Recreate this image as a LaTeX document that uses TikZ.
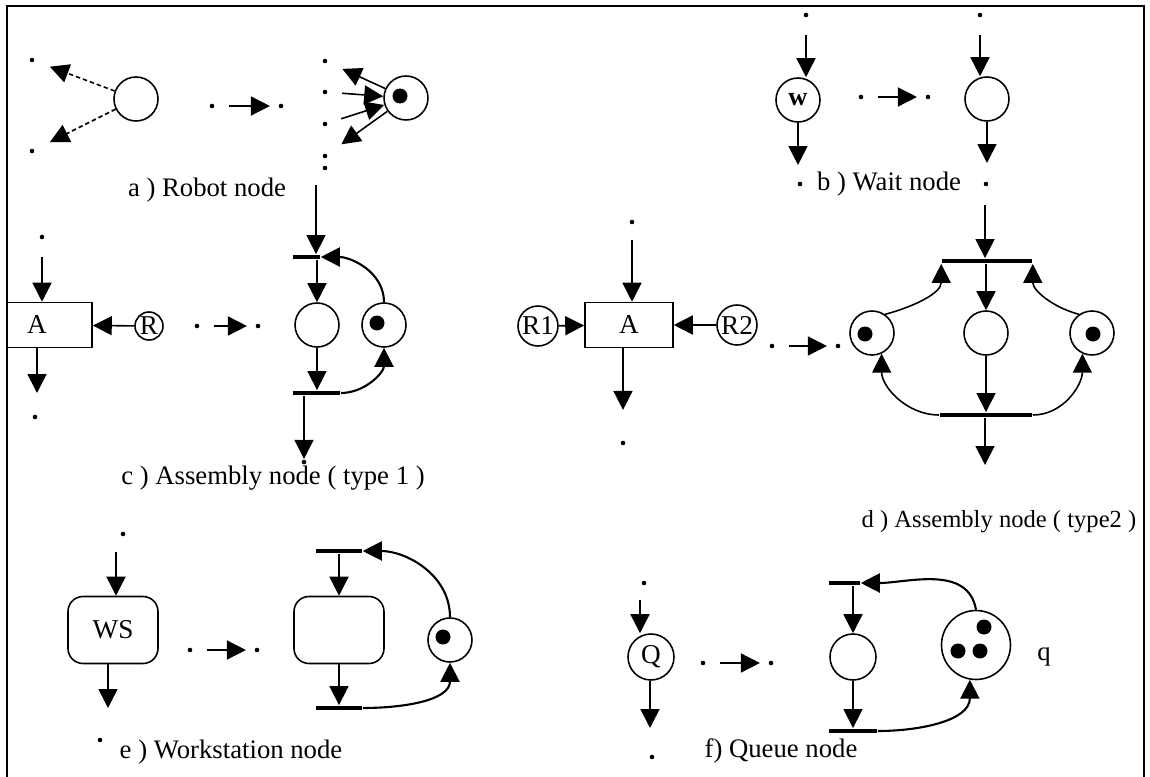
\documentclass[tikz,border=0pt]{standalone}
\usepackage{fontspec}
\setmainfont{Liberation Serif}
\usetikzlibrary{arrows.meta,positioning}

\tikzset{
  >={Triangle[length=0.38cm,width=0.38cm]},
  place/.style={circle,draw,minimum size=0.88cm,inner sep=0pt,font=\fontsize{15.5}{15.5}\selectfont},
  token/.style={circle,fill,minimum size=0.3cm,inner sep=0pt},
  res/.style={circle,draw,inner sep=0pt,font=\fontsize{15.5}{15.5}\selectfont},
  opbox/.style={draw,minimum width=1.76cm,minimum height=0.9cm,font=\fontsize{15.5}{15.5}\selectfont},
  wsbox/.style={draw,rounded corners=0.3cm,minimum width=1.8cm,minimum height=1.34cm,font=\fontsize{15.5}{15.5}\selectfont},
  tbar/.style={fill,inner sep=0pt,minimum height=0.085cm},
  dotpt/.style={circle,fill,minimum size=2.6pt,inner sep=0pt},
  caption/.style={font=\fontsize{15.2}{17}\selectfont},
  becomes/.style={->,shorten <=0.27cm,shorten >=0.16cm},
  feed/.style={->,shorten <=0.34cm},
  spill/.style={->,shorten >=#1},
  backarc/.style={->,line width=1.2pt},
}

\begin{document}
\begin{tikzpicture}[x=0.02cm,y=0.02cm,line width=0.9pt]
\useasboundingbox (0,0) rectangle (1150,-777);
\draw[line width=0.8pt] (7,-777) -- (7,-6) -- (1144,-6) -- (1144,-777);

% a) robot node
\node[place] (ra) at (136,-99) {};
\node[dotpt] (a1) at (32,-60) {};
\node[dotpt] (a2) at (32,-151) {};
\path[->,dash pattern=on 2.5pt off 1.7pt]
  (ra) edge[shorten >=0.32cm] (a1)
  (ra) edge[shorten >=0.34cm] (a2);
\node[dotpt] (am1) at (212,-106) {};
\node[dotpt] (am2) at (281,-106) {};
\path (am1) edge[becomes] (am2);
\node[place] (rb) at (406,-98) {};
\node[token] (rbt) at (400,-96) {};
\foreach \y [count=\i] in {61,92,124,156,168}
  \node[dotpt] (b\i) at (325,-\y) {};
\path[->] (rb) edge[shorten >=0.32cm] (b1)
          (b2) edge[shorten <=0.28cm] (rb)
          (b3) edge[shorten <=0.28cm] (rb)
          (rb) edge[shorten >=0.34cm] (b4);
\node[caption] (capa) at (207,-190) {a ) Robot node};

% b) wait node
\node[place,font=\bfseries\fontsize{15}{15}\selectfont] (wn) at (798,-100) {w};
\node[dotpt] (wt) at (806,-15) {};
\node[dotpt] (wb) at (800,-184) {};
\path (wt) edge[feed] (wt |- wn.north)
      (wn) edge[spill=0.38cm] (wn |- wb);
\node[dotpt] (bm1) at (861,-97) {};
\node[dotpt] (bm2) at (928,-97) {};
\path (bm1) edge[becomes] (bm2);
\node[place] (wp) at (987,-99) {};
\node[dotpt] (wpt) at (980,-15) {};
\node[dotpt] (wpb) at (986,-184) {};
\path (wpt) edge[feed] (wpt |- wp.north)
      (wp) edge[spill=0.42cm] (wp |- wpb);
\node[caption] (capb) at (889,-184) {b ) Wait node};

% c) assembly node, type 1
\begin{scope}
  \clip (7,0) rectangle (1144,-777);
  \node[opbox,minimum width=2.2cm] (ac) at (37,-325) {A};
\end{scope}
\node[dotpt] (ca) at (42,-237) {};
\node[dotpt] (cb) at (35,-417) {};
\node[res,minimum size=0.56cm] (rc) at (149,-326) {R};
\path (ca) edge[feed] (ca |- ac.north)
      (ac) edge[spill=0.48cm] (ac |- cb)
      (rc) edge[->] (ac);
\node[dotpt] (cm1) at (197,-326) {};
\node[dotpt] (cm2) at (258,-326) {};
\path (cm1) edge[becomes] (cm2);
\coordinate (cin) at (316,-185);
\node[tbar,minimum width=0.54cm] (tc1) at (306.5,-257) {};
\node[place] (pc) at (317,-325) {};
\node[place] (kc) at (384,-325) {};
\node[token] (kct) at (377,-323) {};
\node[tbar,minimum width=0.94cm] (tc2) at (316.5,-393) {};
\node[dotpt] (co) at (304,-462) {};
\path[->] (cin) edge (cin |- tc1.north)
          (pc |- tc1.south) edge (pc)
          (pc) edge (pc |- tc2.north)
          (co |- tc2.south) edge (co);
\path (kc.north) edge[backarc,out=90,in=0] (tc1.east)
      (tc2.east) edge[backarc,out=0,in=-90] (kc.south);
\node[caption] (capc) at (273,-478) {c ) Assembly node ( type 1 )};

% d) assembly node, type 2
\node[res,minimum size=0.8cm] (r1) at (538,-326) {R1};
\node[opbox] (ad) at (629,-325) {A};
\node[res,minimum size=0.8cm] (r2) at (737,-325) {R2};
\node[dotpt] (dt) at (632,-222) {};
\node[dotpt] (db) at (623,-443) {};
\path[->] (r1) edge (ad)
          (r2) edge (ad)
          (dt) edge[shorten <=0.3cm] (dt |- ad.north)
          (ad.south -| db) edge[shorten >=0.6cm] (db);
\node[dotpt] (dm1) at (772,-346) {};
\node[dotpt] (dm2) at (838,-346) {};
\path (dm1) edge[becomes] (dm2);
\coordinate (din) at (985,-205);
\node[tbar,minimum width=1.8cm] (td1) at (987,-261) {};
\node[place] (dl) at (872,-333) {};
\node[token] (dlt) at (865,-334) {};
\node[place] (dmid) at (986,-333) {};
\node[place] (dr) at (1092,-333) {};
\node[token] (drt) at (1093,-334) {};
\node[tbar,minimum width=1.84cm] (td2) at (986,-415) {};
\coordinate (dout) at (985,-465);
\path[->] (din) edge (din |- td1.north)
          (dmid |- td1.south) edge (dmid)
          (dmid) edge (dmid |- td2.north)
          (dout |- td2.south) edge (dout)
          (dl.55) edge[out=15,in=-90] (td1.south west)
          (dr.125) edge[out=165,in=-90] (td1.south east)
          (td2.west) edge[out=180,in=-90] (dl.-65)
          (td2.east) edge[out=0,in=-90] (dr.-115);
\node[caption,font=\fontsize{14}{16}\selectfont] (capd) at (999,-522) {d ) Assembly node ( type2 )};

% e) workstation node
\node[wsbox] (ws) at (113,-630) {WS};
\node[dotpt] (et) at (123,-534) {};
\coordinate (ein) at (116,-552);
\node[dotpt] (eb) at (100,-740) {};
\coordinate (eout) at (108,-708);
\path[->] (ein) edge (ein |- ws.north)
          (ws.south -| eout) edge (eout);
\node[dotpt] (em1) at (190,-650) {};
\node[dotpt] (em2) at (257,-650) {};
\path (em1) edge[becomes] (em2);
\node[tbar,minimum width=0.92cm] (te1) at (339,-551) {};
\node[wsbox] (wq) at (339,-630) {};
\node[tbar,minimum width=0.92cm] (te2) at (339,-708) {};
\node[place] (ke) at (450,-640) {};
\node[token] (ket) at (443,-637) {};
\path[->] (te1) edge (wq)
          (wq) edge (te2);
\path (ke.north) edge[backarc,out=90,in=0] (te1.east)
      (te2.east) edge[backarc,out=0,in=-90] (ke.south);
\node[caption] (cape) at (231,-752) {e ) Workstation node};

% f) queue node
\node[place,minimum size=0.92cm] (qn) at (651,-657) {Q};
\node[dotpt] (ft) at (644,-583) {};
\coordinate (fin) at (640,-600);
\node[dotpt] (fb) at (652,-757) {};
\coordinate (fout) at (650,-728);
\path[->] (fin) edge (fin |- qn.north)
          (qn.south -| fout) edge (fout);
\node[dotpt] (fm1) at (703,-663) {};
\node[dotpt] (fm2) at (771,-663) {};
\path (fm1) edge[becomes] (fm2);
\node[tbar,minimum width=0.62cm] (tf1) at (844.5,-583) {};
\node[place,minimum size=0.92cm] (fp) at (853,-657) {};
\node[tbar,minimum width=0.96cm] (tf2) at (853,-731) {};
\node[place,minimum size=1.38cm] (fq) at (976,-645) {};
\node[token] (fq1) at (984,-627) {};
\node[token] (fq2) at (958,-651) {};
\node[token] (fq3) at (980,-651) {};
\node[caption] (ql) at (1044,-657) {q};
\path[->] (fp |- tf1.south) edge (fp)
          (fp) edge (fp |- tf2.north);
\path (fq.north) edge[backarc,out=100,in=0] (tf1.east)
      (tf2.east) edge[backarc,out=0,in=-90] (fq.-100);
\node[caption] (capf) at (781,-751) {f) Queue node};
\end{tikzpicture}
\end{document}
